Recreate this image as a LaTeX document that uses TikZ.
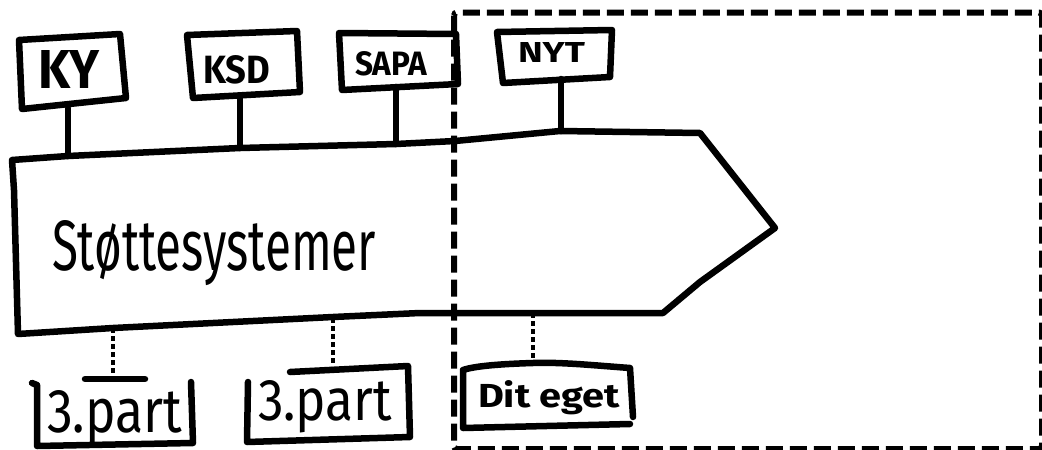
\documentclass[tikz,border=0pt]{standalone}
\usepackage{fontspec}
\setmainfont{Fira Sans}
\usepackage{graphicx}
\newcommand\fitlbl[3]{\resizebox{#1pt}{#2pt}{#3}}
\tikzset{
  ink/.style={draw=black, line width=6.5pt, line join=round, line cap=round},
  stem/.style={draw=black, line width=6.5pt, line cap=round},
  dotstem/.style={draw=black, line width=4.5pt, dash pattern=on 5pt off 3pt},
  frame/.style={draw=black, line width=6pt, dash pattern=on 17pt off 7pt, rounded corners=3pt},
  lbl/.style={inner sep=0pt, outer sep=0pt, anchor=base west, font=\bfseries},
  midl/.style={inner sep=0pt, outer sep=0pt, anchor=base west, font=\mdseries},
  bigl/.style={inner sep=0pt, outer sep=0pt, anchor=base west, font=\mdseries},
}
\begin{document}
\begin{tikzpicture}[x=1pt,y=-1pt]
\useasboundingbox (0,0) rectangle (1042,450);
\fill[white] (0,0) rectangle (1042,450);

% dashed frame
\draw[frame] (454,12.5) rectangle (1042,449);

% main arrow shape
\draw[ink] (12,160) -- (68,156) -- (240,148) -- (396,144) -- (455,141) -- (560,131)
  -- (700,133) -- (775,228) -- (700,282) -- (663,313) -- (420,313) -- (333,317)
  -- (113,328) -- (18,334) -- (14,190) -- cycle;
\node[bigl] (main) at (52,270) {\fitlbl{324}{50}{Støttesystemer}};

% top boxes
\draw[ink] (19,40) -- (120,34) -- (126,98) -- (22,109) -- cycle;
\node[lbl] (ky) at (38,88) {\fitlbl{62}{38}{KY}};
\draw[ink] (187,35) -- (297,31) -- (300,92) -- (193,98) -- cycle;
\node[lbl] (ksd) at (203,83) {\fitlbl{67}{28}{KSD}};
\draw[ink] (339,33) -- (456,34) -- (458,84) -- (342,90) -- cycle;
\node[lbl] (sapa) at (355,75) {\fitlbl{72}{24}{SAPA}};
\draw[ink] (497,32) -- (612,30) -- (610,77) -- (503,83) -- cycle;
\node[lbl] (nyt) at (518,62) {\fitlbl{67}{20}{NYT}};

% top stems
\coordinate (kyb) at (68,108);  \coordinate (kys) at (68,156);
\coordinate (ksdb) at (240,96); \coordinate (ksds) at (240,148);
\coordinate (sapab) at (396,87); \coordinate (sapas) at (396,144);
\coordinate (nytb) at (561,79); \coordinate (nyts) at (561,131);
\draw[stem] (kyb) -- (kys);
\draw[stem] (ksdb) -- (ksds);
\draw[stem] (sapab) -- (sapas);
\draw[stem] (nytb) -- (nyts);

% bottom boxes
\draw[ink] (32,383) -- (37,385) -- (37,446) -- (193,443) -- (191,382);
\draw[ink] (85,379) -- (145,379);
\node[midl] (p1) at (47,432) {\fitlbl{135}{42}{3.part}};
\draw[ink] (248,382) -- (247,442) -- (410,437) -- (408,366) -- (290,372);
\node[midl] (p2) at (258,420) {\fitlbl{134}{40}{3.part}};
\draw[ink] (633,417) -- (630,368) .. controls (590,365) and (560,362) .. (533,363)
  .. controls (500,364) and (475,366) .. (463,370) -- (463,428) -- (630,424);
\node[lbl] (dit) at (478,407) {\fitlbl{142}{27}{Dit eget}};

% bottom dotted stems
\coordinate (s1t) at (113,328); \coordinate (s1b) at (113,377);
\coordinate (s2t) at (333,318); \coordinate (s2b) at (333,366);
\coordinate (s3t) at (533,313); \coordinate (s3b) at (533,362);
\draw[dotstem] (s1t) -- (s1b);
\draw[dotstem] (s2t) -- (s2b);
\draw[dotstem] (s3t) -- (s3b);
\end{tikzpicture}
\end{document}
